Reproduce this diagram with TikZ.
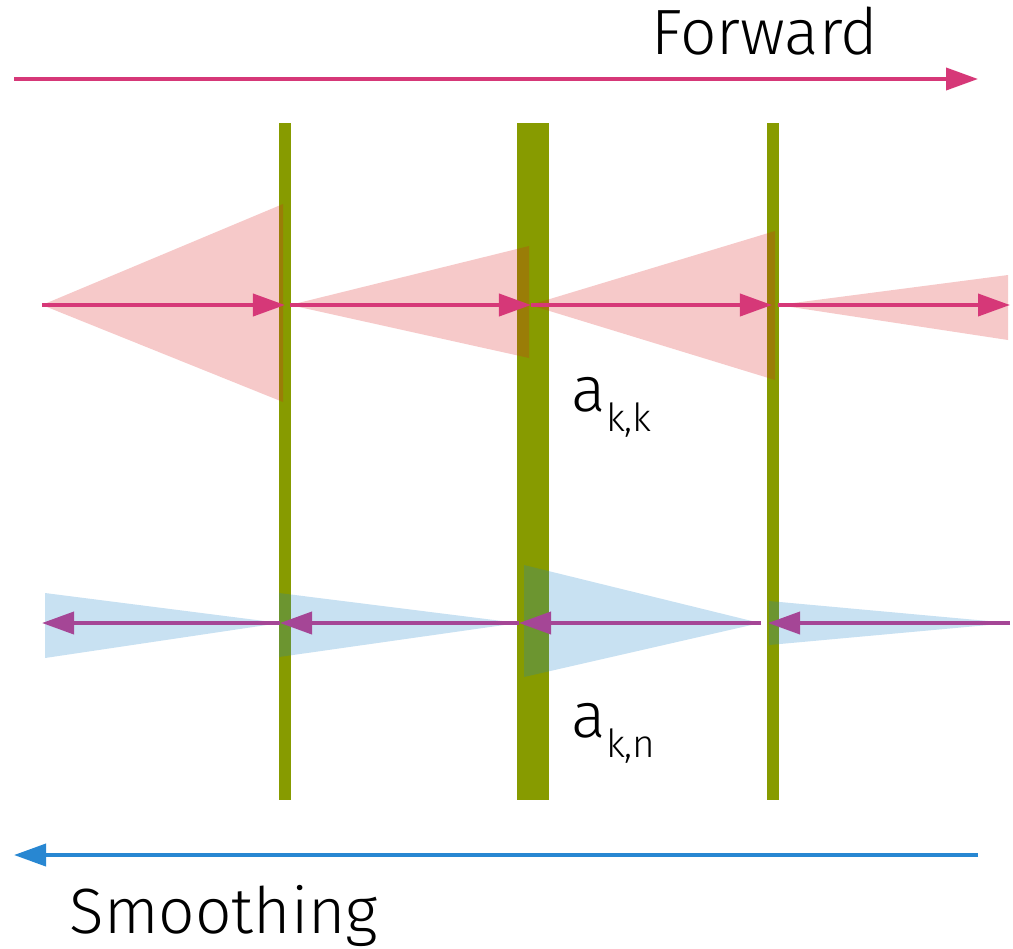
\documentclass[tikz,border=0pt]{standalone}
\usepackage{fontspec}
\setmainfont{Fira Sans Light}
\usetikzlibrary{arrows.meta}

\definecolor{fwdpink}{RGB}{214,56,120}
\definecolor{bwdpurple}{RGB}{165,70,150}
\definecolor{smoothblue}{RGB}{40,135,210}
\definecolor{bargreen}{RGB}{135,155,0}
\definecolor{conered}{RGB}{218,30,30}
\definecolor{coneblue}{RGB}{26,130,201}

\newcommand{\idx}[1]{\raisebox{-5.7pt}{\fontsize{11}{11}\selectfont #1}}

\begin{document}
\begin{tikzpicture}[
    x=0.01cm, y=-0.01cm,
    bar/.style={fill=bargreen},
    fwdcone/.style={fill=conered, fill opacity=0.24},
    bwdcone/.style={fill=coneblue, fill opacity=0.24},
    tip/.style={-{Triangle[length=0.32cm, width=0.22cm]}, line width=1.1pt},
    fwdarrow/.style={tip, draw=fwdpink},
    bwdarrow/.style={tip, draw=bwdpurple},
    smarrow/.style={tip, draw=smoothblue},
    lbl/.style={inner sep=0pt, font=\fontsize{18.2}{22}\selectfont}
]
\useasboundingbox (0,0) rectangle (1013,948);

% time steps
\fill[bar] (279,123) rectangle (291,800);
\fill[bar] (517,123) rectangle (549,800);
\fill[bar] (767,123) rectangle (779,800);

% forward cones
\fill[fwdcone] (42,305) -- (283,204) -- (283,402) -- cycle;
\fill[fwdcone] (290,305) -- (529,246) -- (529,358) -- cycle;
\fill[fwdcone] (530,305) -- (775,231) -- (775,380) -- cycle;
\fill[fwdcone] (778,305) -- (1008,275) -- (1008,340) -- cycle;

% smoothing cones
\fill[bwdcone] (280,623) -- (45,593) -- (45,658) -- cycle;
\fill[bwdcone] (518,623) -- (279,593) -- (279,657) -- cycle;
\fill[bwdcone] (760,623) -- (524,565) -- (524,677) -- cycle;
\fill[bwdcone] (1010,623) -- (769,601) -- (769,645) -- cycle;

% forward row
\coordinate (f0) at (42,305);
\coordinate (f1) at (285,305);
\coordinate (f1s) at (290,305);
\coordinate (f2) at (531,305);
\coordinate (f3) at (772,305);
\coordinate (f3s) at (778,305);
\coordinate (f4) at (1010,305);
\draw[fwdarrow] (f0) -- (f1);
\draw[fwdarrow] (f1s) -- (f2);
\draw[fwdarrow] (f2) -- (f3);
\draw[fwdarrow] (f3s) -- (f4);

% backward row
\coordinate (s4) at (1010,623);
\coordinate (s3) at (768,623);
\coordinate (s3s) at (761,623);
\coordinate (s2) at (519,623);
\coordinate (s1) at (280,623);
\coordinate (s0) at (42,623);
\draw[bwdarrow] (s4) -- (s3);
\draw[bwdarrow] (s3s) -- (s2);
\draw[bwdarrow] (s2) -- (s1);
\draw[bwdarrow] (s1) -- (s0);

% direction arrows
\coordinate (fwdL) at (14,79);
\coordinate (fwdR) at (978,79);
\coordinate (smR) at (978,855);
\coordinate (smL) at (14,855);
\draw[fwdarrow] (fwdL) -- (fwdR);
\draw[smarrow] (smR) -- (smL);

% labels
\node[lbl, anchor=base] (fwdtxt) at (765,54) {Forward};
\node[lbl, anchor=base west] (smtxt) at (69,933) {Smoothing};
\node[lbl, anchor=base west] (akk) at (571,411) {a\idx{k,k}};
\node[lbl, anchor=base west] (akn) at (571,737) {a\idx{k,n}};
\end{tikzpicture}
\end{document}
